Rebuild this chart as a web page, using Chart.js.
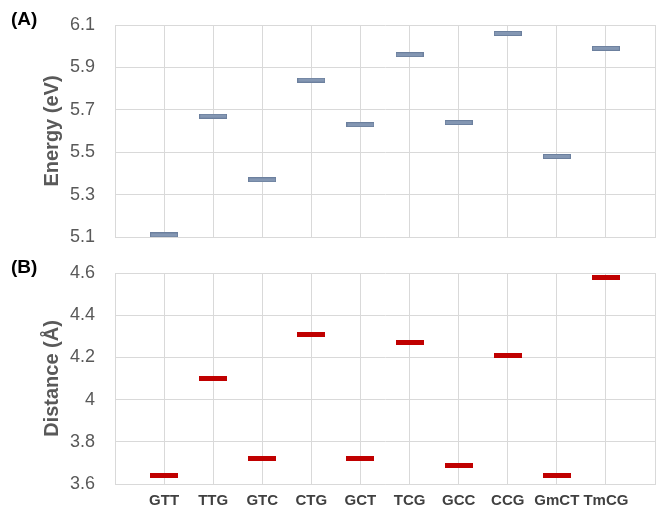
<!DOCTYPE html>
<html>
<head>
<meta charset="utf-8">
<script src="https://cdn.jsdelivr.net/npm/chart.js@4"></script>
<style>
    body { margin: 0; background: #fff; }
    #wrap { position: relative; width: 667px; height: 521px; font-family: 'Liberation Sans', Arial, sans-serif; }
    canvas { position: absolute; left: 0; }
    .tag { position: absolute; font-weight: bold; font-size: 19px; color: #000; }
</style>
</head>
<body>
<div id="wrap">
    <canvas id="energyChart" width="667" height="250" style="top:0"></canvas>
    <canvas id="distChart" width="667" height="271" style="top:250px"></canvas>
    <div class="tag" style="left:11px; top:8px">(A)</div>
    <div class="tag" style="left:11px; top:256px">(B)</div>
</div>
<script>
const categories = ['GTT', 'TTG', 'GTC', 'CTG', 'GCT', 'TCG', 'GCC', 'CCG', 'GmCT', 'TmCG'];
const energy = [5.11, 5.67, 5.37, 5.84, 5.63, 5.96, 5.64, 6.06, 5.48, 5.99];
const distance = [3.64, 4.10, 3.72, 4.31, 3.72, 4.27, 3.69, 4.21, 3.64, 4.58];
const energyTicks = ['5.1', '5.3', '5.5', '5.7', '5.9', '6.1'];
const distanceTicks = ['3.6', '3.8', '4', '4.2', '4.4', '4.6'];

const gridColor = '#d9d9d9';
const font = "'Liberation Sans', Arial, sans-serif";

// little dash used as point marker
function dash(fill, stroke) {
    const c = document.createElement('canvas');
    c.width = 28;
    c.height = 5;
    const ctx = c.getContext('2d');
    ctx.fillStyle = fill;
    ctx.fillRect(0, 0, 28, 5);
    if (stroke) {
        ctx.strokeStyle = stroke;
        ctx.lineWidth = 1;
        ctx.strokeRect(0.5, 0.5, 27, 4);
    }
    return c;
}

function makeChart(el, values, ticks, yMin, yMax, title, marker, showX, padTop) {
    return new Chart(el, {
        type: 'scatter',
        data: {
            datasets: [{
                data: values.map((v, i) => ({ x: i + 1, y: v })),
                pointStyle: marker,
                pointRadius: 14,
                pointHoverRadius: 14,
            }]
        },
        options: {
            responsive: false,
            animation: false,
            layout: { autoPadding: false, padding: { top: padTop, right: 12, left: 0, bottom: 0 } },
            plugins: { legend: { display: false }, tooltip: { enabled: false } },
            scales: {
                x: {
                    type: 'linear',
                    min: 0,
                    max: 11,
                    ticks: {
                        display: showX,
                        stepSize: 1,
                        padding: 8,
                        autoSkip: false,
                        maxRotation: 0,
                        minRotation: 0,
                        color: '#404040',
                        font: { family: font, size: 15, weight: 'bold' },
                        callback: v => categories[v - 1] || '',
                    },
                    grid: { color: gridColor, drawTicks: false },
                    border: { color: gridColor },
                    afterFit: s => {
                        s.height = showX ? 37 : 13;
                        s.paddingLeft = 0;
                        s.paddingRight = 0;
                    },
                },
                y: {
                    min: yMin,
                    max: yMax,
                    ticks: {
                        stepSize: 0.2,
                        padding: 20,
                        color: '#595959',
                        font: { family: font, size: 18 },
                        callback: (v, i) => ticks[i],
                    },
                    grid: { color: gridColor, drawTicks: false },
                    border: { color: gridColor },
                    title: {
                        display: true,
                        text: title,
                        color: '#595959',
                        padding: { top: 40, bottom: 0 },
                        font: { family: font, size: 20, weight: 'bold' },
                    },
                    afterFit: s => {
                        s.width = 115;
                        s.paddingTop = 0;
                        s.paddingBottom = 0;
                    },
                }
            }
        }
    });
}

makeChart(document.getElementById('energyChart'), energy, energyTicks, 5.1, 6.1,
    'Energy (eV)', dash('#8497b3', '#6c809e'), false, 25);
makeChart(document.getElementById('distChart'), distance, distanceTicks, 3.6, 4.6,
    'Distance (Å)', dash('#c00000', null), true, 23);
</script>
</body>
</html>
